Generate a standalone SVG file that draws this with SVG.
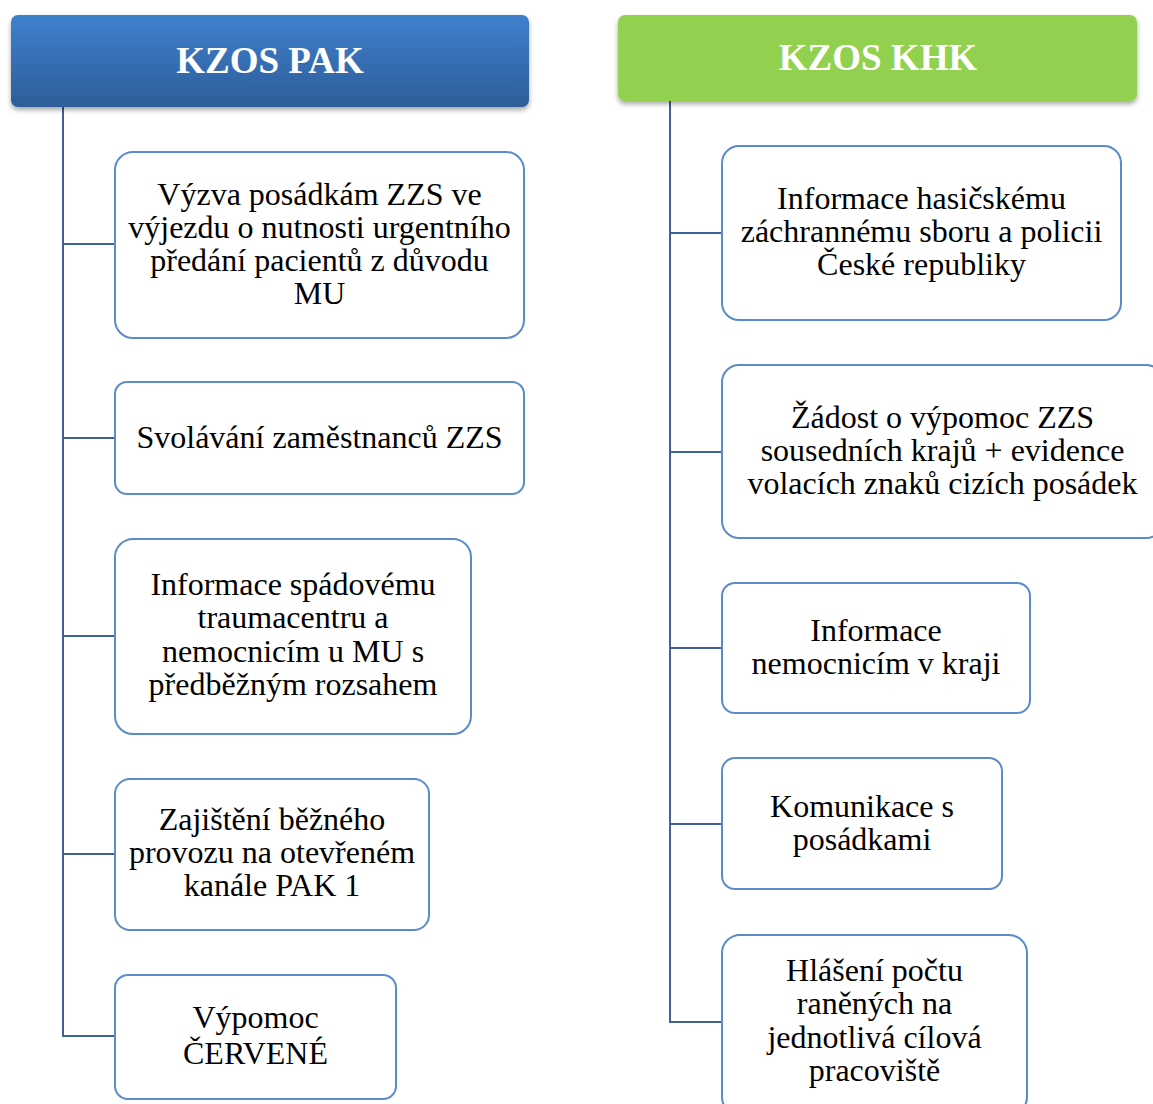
<svg xmlns="http://www.w3.org/2000/svg" width="1153" height="1104" viewBox="0 0 1153 1104">
  <defs>
    <linearGradient id="gradBlue" x1="0" y1="0" x2="0" y2="1">
      <stop offset="0" stop-color="#3e80cd"/>
      <stop offset="1" stop-color="#2e5d99"/>
    </linearGradient>
    <filter id="shadow" x="-5%" y="-20%" width="110%" height="150%">
      <feDropShadow dx="0" dy="3" stdDeviation="2.5" flood-color="#000" flood-opacity="0.35"/>
    </filter>
  </defs>
  <style>
    .head-text { font-weight: bold; font-size: 37px; fill: #ffffff; text-anchor: middle; }
    .box { fill: #ffffff; stroke: #5a8ccb; stroke-width: 2; }
    .label { font-size: 32px; fill: #000000; text-anchor: middle; }
    .conn { fill: none; stroke: #3b6299; stroke-width: 2; }
  </style>
  <rect width="1153" height="1104" fill="#ffffff"/>

  <!-- connectors -->
  <g id="connectors">
    <path class="conn" d="M63 107 V1036 H115"/>
    <path class="conn" d="M63 244 H115 M63 438 H115 M63 636 H115 M63 854 H115"/>
    <path class="conn" d="M670 101 V1022 H722"/>
    <path class="conn" d="M670 233 H722 M670 452 H722 M670 648 H722 M670 824 H722"/>
  </g>

  <g font-family="Liberation Serif, serif">
  <!-- headers -->
  <g id="head-pak">
    <rect x="11" y="15" width="518" height="92" rx="7" fill="url(#gradBlue)" filter="url(#shadow)"/>
    <text class="head-text" x="270" y="73">KZOS PAK</text>
  </g>
  <g id="head-khk">
    <rect x="618" y="15" width="519" height="86" rx="7" fill="#92d050" filter="url(#shadow)"/>
    <text class="head-text" x="878" y="70">KZOS KHK</text>
  </g>

  <!-- left column -->
  <g id="pak-1">
    <rect class="box" x="115" y="152" width="409" height="186" rx="18"/>
    <text class="label" x="319.5" y="205">Výzva posádkám ZZS ve</text>
    <text class="label" x="319.5" y="238">výjezdu o nutnosti urgentního</text>
    <text class="label" x="319.5" y="271">předání pacientů z důvodu</text>
    <text class="label" x="319.5" y="304">MU</text>
  </g>
  <g id="pak-2">
    <rect class="box" x="115" y="382" width="409" height="112" rx="12"/>
    <text class="label" x="319.5" y="448">Svolávání zaměstnanců ZZS</text>
  </g>
  <g id="pak-3">
    <rect class="box" x="115" y="539" width="356" height="195" rx="18"/>
    <text class="label" x="293" y="595">Informace spádovému</text>
    <text class="label" x="293" y="628">traumacentru a</text>
    <text class="label" x="293" y="662">nemocnicím u MU s</text>
    <text class="label" x="293" y="695">předběžným rozsahem</text>
  </g>
  <g id="pak-4">
    <rect class="box" x="115" y="779" width="314" height="151" rx="15"/>
    <text class="label" x="272" y="830">Zajištění běžného</text>
    <text class="label" x="272" y="863">provozu na otevřeném</text>
    <text class="label" x="272" y="896">kanále PAK 1</text>
  </g>
  <g id="pak-5">
    <rect class="box" x="115" y="975" width="281" height="124" rx="13"/>
    <text class="label" x="255.5" y="1028">Výpomoc</text>
    <text class="label" x="255.5" y="1064">ČERVENÉ</text>
  </g>

  <!-- right column -->
  <g id="khk-1">
    <rect class="box" x="722" y="146" width="399" height="174" rx="17"/>
    <text class="label" x="921.5" y="209">Informace hasičskému</text>
    <text class="label" x="921.5" y="242">záchrannému sboru a policii</text>
    <text class="label" x="921.5" y="275">České republiky</text>
  </g>
  <g id="khk-2">
    <rect class="box" x="722" y="365" width="441" height="173" rx="17"/>
    <text class="label" x="942.5" y="428">Žádost o výpomoc ZZS</text>
    <text class="label" x="942.5" y="461">sousedních krajů + evidence</text>
    <text class="label" x="942.5" y="494">volacích znaků cizích posádek</text>
  </g>
  <g id="khk-3">
    <rect class="box" x="722" y="583" width="308" height="130" rx="13"/>
    <text class="label" x="876" y="641">Informace</text>
    <text class="label" x="876" y="674">nemocnicím v kraji</text>
  </g>
  <g id="khk-4">
    <rect class="box" x="722" y="758" width="280" height="131" rx="13"/>
    <text class="label" x="862" y="817">Komunikace s</text>
    <text class="label" x="862" y="850">posádkami</text>
  </g>
  <g id="khk-5">
    <rect class="box" x="722" y="935" width="305" height="180" rx="18"/>
    <text class="label" x="874.5" y="981">Hlášení počtu</text>
    <text class="label" x="874.5" y="1014">raněných na</text>
    <text class="label" x="874.5" y="1048">jednotlivá cílová</text>
    <text class="label" x="874.5" y="1081">pracoviště</text>
  </g>
  </g>
</svg>
